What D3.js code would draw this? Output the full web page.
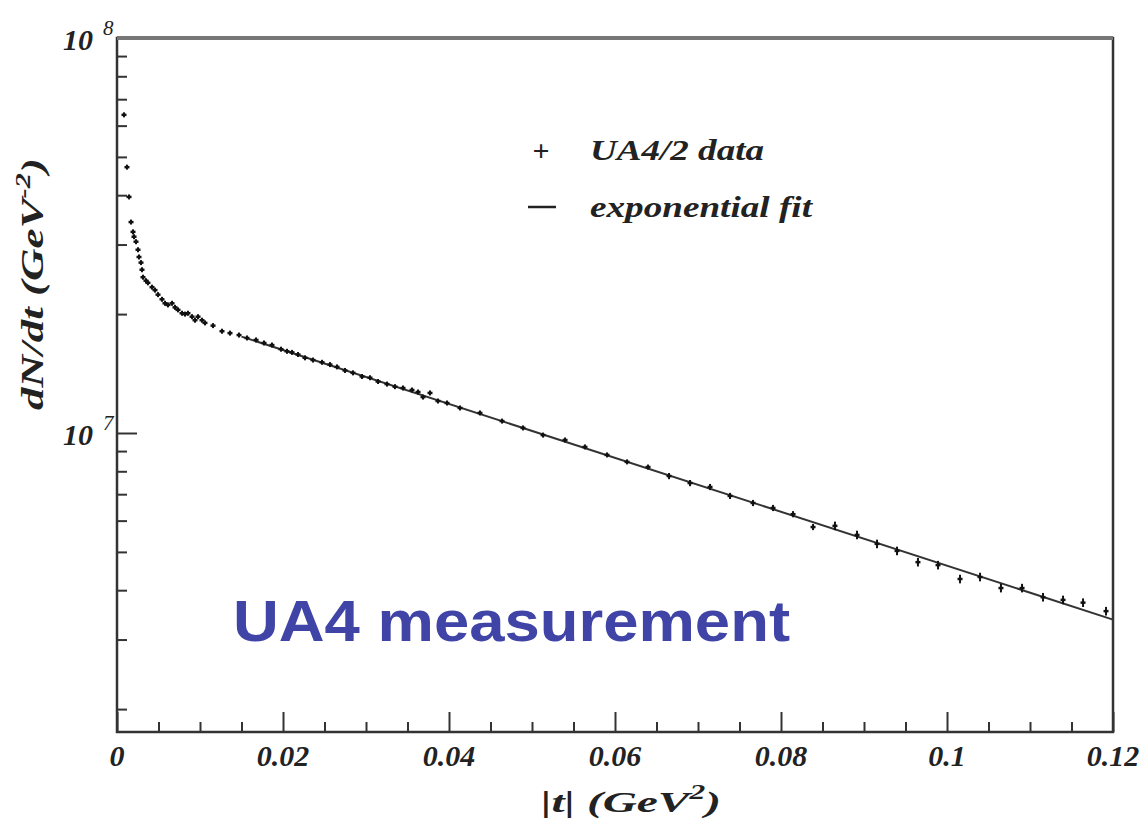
<!DOCTYPE html>
<html>
<head>
<meta charset="utf-8">
<script src="https://cdn.jsdelivr.net/npm/d3@7"></script>
<style>
  body { margin: 0; background: #fff; }
  svg { display: block; }
</style>
</head>
<body>
<div id="chart"></div>
<script>
// |t| in GeV^2
const tValues = [
  0.00084, 0.00120, 0.00145, 0.00169, 0.00193, 0.00205, 0.00229, 0.00253, 0.00265, 0.00289,
  0.00301, 0.00313, 0.00349, 0.00373, 0.00422, 0.00458, 0.00494, 0.00542, 0.00578, 0.00614,
  0.00663, 0.00699, 0.00735, 0.00783, 0.00819, 0.00855, 0.00904, 0.00940, 0.00976, 0.01024,
  0.01060, 0.01157, 0.01265, 0.01361, 0.01470, 0.01566, 0.01675, 0.01771, 0.01867, 0.01976,
  0.02048, 0.02108, 0.02181, 0.02265, 0.02361, 0.02470, 0.02566, 0.02651, 0.02747, 0.02843,
  0.02952, 0.03048, 0.03145, 0.03253, 0.03349, 0.03446, 0.03554, 0.03627, 0.03687, 0.03771,
  0.03867, 0.03976, 0.04133, 0.04373, 0.04639, 0.04892, 0.05133, 0.05398, 0.05638, 0.05904,
  0.06145, 0.06398, 0.06651, 0.06904, 0.07145, 0.07386, 0.07663, 0.07904, 0.08145, 0.08386,
  0.08650, 0.08916, 0.09157, 0.09398, 0.09650, 0.09892, 0.10157, 0.10398, 0.10650, 0.10904,
  0.11157, 0.11398, 0.11639, 0.11916
];
// dN/dt in GeV^-2
const dndtValues = [
  6.39e7, 4.71e7, 3.96e7, 3.42e7, 3.23e7, 3.14e7, 3.05e7, 2.91e7, 2.79e7, 2.70e7,
  2.59e7, 2.48e7, 2.43e7, 2.40e7, 2.34e7, 2.30e7, 2.24e7, 2.18e7, 2.13e7, 2.11e7,
  2.13e7, 2.08e7, 2.05e7, 2.01e7, 2.00e7, 2.01e7, 1.97e7, 1.93e7, 1.97e7, 1.93e7,
  1.90e7, 1.87e7, 1.81e7, 1.79e7, 1.77e7, 1.74e7, 1.72e7, 1.69e7, 1.67e7, 1.63e7,
  1.61e7, 1.60e7, 1.58e7, 1.55e7, 1.53e7, 1.51e7, 1.49e7, 1.47e7, 1.44e7, 1.42e7,
  1.39e7, 1.38e7, 1.35e7, 1.33e7, 1.31e7, 1.30e7, 1.285e7, 1.27e7, 1.233e7, 1.263e7,
  1.205e7, 1.191e7, 1.157e7, 1.124e7, 1.072e7, 1.030e7, 9.88e6, 9.60e6, 9.22e6, 8.80e6,
  8.45e6, 8.20e6, 7.78e6, 7.47e6, 7.30e6, 6.93e6, 6.65e6, 6.46e6, 6.23e6, 5.78e6,
  5.82e6, 5.52e6, 5.24e6, 5.03e6, 4.71e6, 4.63e6, 4.27e6, 4.32e6, 4.05e6, 4.05e6,
  3.84e6, 3.78e6, 3.72e6, 3.54e6
];
// relative error, percent
const errPercent = [
  0.6, 0.6, 0.6, 0.6, 0.6, 0.6, 0.6, 0.6, 0.6, 0.6,
  0.6, 0.6, 0.6, 0.6, 0.6, 0.6, 0.6, 0.6, 0.6, 0.6,
  0.6, 0.6, 0.6, 0.6, 0.6, 0.6, 0.6, 0.6, 0.6, 0.6,
  0.6, 0.6, 0.6, 0.6, 0.6, 0.6, 0.6, 0.6, 0.6, 0.6,
  0.6, 0.6, 0.6, 0.6, 0.6, 0.6, 0.6, 0.6, 0.6, 0.6,
  0.6, 0.6, 0.6, 0.6, 0.6, 0.6, 0.6, 0.6, 0.8, 0.8,
  0.8, 0.8, 0.8, 0.8, 0.8, 0.8, 1.2, 1.2, 1.2, 1.2,
  1.2, 1.2, 1.8, 1.8, 1.8, 1.8, 1.8, 1.8, 1.8, 1.8,
  2.5, 2.5, 2.5, 2.5, 2.5, 2.5, 2.5, 2.5, 2.5, 2.5,
  2.5, 2.5, 2.5, 2.5
];

// exponential fit, end points (a straight line on the log axis)
const fitT = [0.015, 0.12];
const fitValues = [1.754e7, 3.37e6];

const xMajorTicks = [0, 0.02, 0.04, 0.06, 0.08, 0.1, 0.12];
const xTickLabels = ["0", "0.02", "0.04", "0.06", "0.08", "0.1", "0.12"];
const yMajorTicks = [1e7, 1e8];
const yTickExponents = ["7", "8"];

const width = 1146, height = 821;
const margin = { top: 38, right: 33, bottom: 89, left: 117 };
const serif = "'Liberation Serif', 'Times New Roman', serif";

const svg = d3.select("#chart").append("svg")
  .attr("width", width)
  .attr("height", height);

const x = d3.scaleLinear()
  .domain([0, 0.12])
  .range([margin.left, width - margin.right]);

const y = d3.scaleLog()
  .domain([1.75e6, 1e8])
  .range([height - margin.bottom, margin.top]);

const plotBottom = height - margin.bottom;
const axisColor = "#333";

// minor x ticks every 0.005
const xMinor = d3.range(0, 0.1201, 0.005).filter(v => xMajorTicks.every(m => Math.abs(m - v) > 1e-6));

const xAxisMinor = d3.axisBottom(x).tickValues(xMinor).tickSize(-10).tickFormat("");
const xAxisMajor = d3.axisBottom(x).tickValues(xMajorTicks).tickSize(-20).tickFormat("");

svg.append("g").attr("transform", `translate(0,${plotBottom})`).call(xAxisMinor)
  .call(g => g.select(".domain").remove())
  .call(g => g.selectAll("line").attr("stroke", axisColor).attr("stroke-width", 2));
svg.append("g").attr("transform", `translate(0,${plotBottom})`).call(xAxisMajor)
  .call(g => g.select(".domain").remove())
  .call(g => g.selectAll("line").attr("stroke", axisColor).attr("stroke-width", 2));

// minor y ticks: 2..9 x 10^6 and 2..9 x 10^7
const yMinor = [];
[1e6, 1e7].forEach(dec => {
  for (let k = 2; k <= 9; k++) {
    const v = k * dec;
    if (v >= 1.75e6 && v < 1e8) yMinor.push(v);
  }
});

const yAxisMinor = d3.axisLeft(y).tickValues(yMinor).tickSize(-10).tickFormat("");
const yAxisMajor = d3.axisLeft(y).tickValues([1e7]).tickSize(-20).tickFormat("");

svg.append("g").attr("transform", `translate(${margin.left},0)`).call(yAxisMinor)
  .call(g => g.select(".domain").remove())
  .call(g => g.selectAll("line").attr("stroke", axisColor).attr("stroke-width", 2));
svg.append("g").attr("transform", `translate(${margin.left},0)`).call(yAxisMajor)
  .call(g => g.select(".domain").remove())
  .call(g => g.selectAll("line").attr("stroke", axisColor).attr("stroke-width", 2));

// frame
svg.append("rect")
  .attr("x", x(0))
  .attr("y", y(1e8))
  .attr("width", x(0.12) - x(0))
  .attr("height", plotBottom - y(1e8))
  .attr("fill", "none")
  .attr("stroke", axisColor)
  .attr("stroke-width", 2.5);
svg.append("line")
  .attr("x1", x(0)).attr("x2", x(0.12))
  .attr("y1", y(1e8)).attr("y2", y(1e8))
  .attr("stroke", "#777")
  .attr("stroke-width", 4);

// x tick labels
svg.append("g").selectAll("text")
  .data(xMajorTicks)
  .join("text")
  .attr("x", d => x(d))
  .attr("y", plotBottom + 34)
  .attr("text-anchor", "middle")
  .attr("font-family", serif)
  .attr("font-weight", "bold")
  .attr("font-style", "italic")
  .attr("font-size", 30)
  .attr("fill", "#222")
  .text((d, i) => xTickLabels[i]);

// y tick labels 10^n
const yLab = svg.append("g").selectAll("g")
  .data(yMajorTicks)
  .join("g")
  .attr("transform", d => `translate(93,${y(d) + 12})`);
yLab.append("text")
  .attr("text-anchor", "end")
  .attr("font-family", serif)
  .attr("font-weight", "bold")
  .attr("font-style", "italic")
  .attr("font-size", 30)
  .attr("fill", "#222")
  .text("10");
yLab.append("text")
  .attr("x", 10)
  .attr("y", -15)
  .attr("font-family", serif)
  .attr("font-style", "italic")
  .attr("font-size", 21)
  .attr("fill", "#222")
  .text((d, i) => yTickExponents[i]);

// axis titles, stretched to the width they take in the original
function stretchTitle(g, targetLength) {
  const t = g.select("text");
  const len = t.node().getComputedTextLength();
  t.attr("transform", `scale(${targetLength / len},1)`);
}

const xTitleG = svg.append("g").attr("transform", "translate(631,812)");
const xTitle = xTitleG.append("text")
  .attr("text-anchor", "middle")
  .attr("font-family", serif)
  .attr("font-weight", "bold")
  .attr("font-style", "italic")
  .attr("font-size", 30)
  .attr("fill", "#222");
xTitle.append("tspan").text("|t| (GeV");
xTitle.append("tspan").attr("font-size", 20).attr("dy", -13).text("2");
xTitle.append("tspan").attr("dy", 13).text(")");
stretchTitle(xTitleG, 180);

const yTitleG = svg.append("g").attr("transform", "translate(43,284) rotate(-90)");
const yTitle = yTitleG.append("text")
  .attr("text-anchor", "middle")
  .attr("font-family", serif)
  .attr("font-weight", "bold")
  .attr("font-style", "italic")
  .attr("font-size", 31)
  .attr("fill", "#222");
yTitle.append("tspan").text("dN/dt (GeV");
yTitle.append("tspan").attr("font-size", 21).attr("dy", -13).text("-2");
yTitle.append("tspan").attr("dy", 13).text(")");
stretchTitle(yTitleG, 252);

// fit line
svg.append("line")
  .attr("x1", x(fitT[0]))
  .attr("y1", y(fitValues[0]))
  .attr("x2", x(fitT[1]))
  .attr("y2", y(fitValues[1]))
  .attr("stroke", "#333")
  .attr("stroke-width", 2);

// data points: small crosses with vertical error bars
const points = tValues.map((t, i) => ({ t, v: dndtValues[i], e: errPercent[i] / 100 }));
const pts = svg.append("g").selectAll("g")
  .data(points)
  .join("g");
pts.append("line")
  .attr("x1", d => x(d.t))
  .attr("x2", d => x(d.t))
  .attr("y1", d => Math.min(y(d.v * (1 + d.e)), y(d.v) - 2.5))
  .attr("y2", d => Math.max(y(d.v * (1 - d.e)), y(d.v) + 2.5))
  .attr("stroke", "#111")
  .attr("stroke-width", 2);
pts.append("line")
  .attr("x1", d => x(d.t) - 2.5)
  .attr("x2", d => x(d.t) + 2.5)
  .attr("y1", d => y(d.v))
  .attr("y2", d => y(d.v))
  .attr("stroke", "#111")
  .attr("stroke-width", 2.5);

// legend
const legend = svg.append("g");
legend.append("text")
  .attr("x", 541).attr("y", 161)
  .attr("text-anchor", "middle")
  .attr("font-family", serif)
  .attr("font-weight", "bold")
  .attr("font-size", 30)
  .attr("fill", "#222")
  .text("+");
legend.append("line")
  .attr("x1", 528).attr("x2", 556)
  .attr("y1", 207).attr("y2", 207)
  .attr("stroke", "#222").attr("stroke-width", 2.5);
legend.append("text")
  .attr("x", 590).attr("y", 160)
  .attr("textLength", 174)
  .attr("lengthAdjust", "spacingAndGlyphs")
  .attr("font-family", serif)
  .attr("font-weight", "bold")
  .attr("font-style", "italic")
  .attr("font-size", 30)
  .attr("fill", "#222")
  .text("UA4/2 data");
legend.append("text")
  .attr("x", 590).attr("y", 217)
  .attr("textLength", 222)
  .attr("lengthAdjust", "spacingAndGlyphs")
  .attr("font-family", serif)
  .attr("font-weight", "bold")
  .attr("font-style", "italic")
  .attr("font-size", 30)
  .attr("fill", "#222")
  .text("exponential fit");

// overlay title
svg.append("text")
  .attr("x", 233)
  .attr("y", 641)
  .attr("textLength", 557)
  .attr("lengthAdjust", "spacingAndGlyphs")
  .attr("font-family", "'Liberation Sans', Arial, sans-serif")
  .attr("font-weight", "bold")
  .attr("font-size", 58)
  .attr("fill", "#3f44a6")
  .text("UA4 measurement");
</script>
</body>
</html>
